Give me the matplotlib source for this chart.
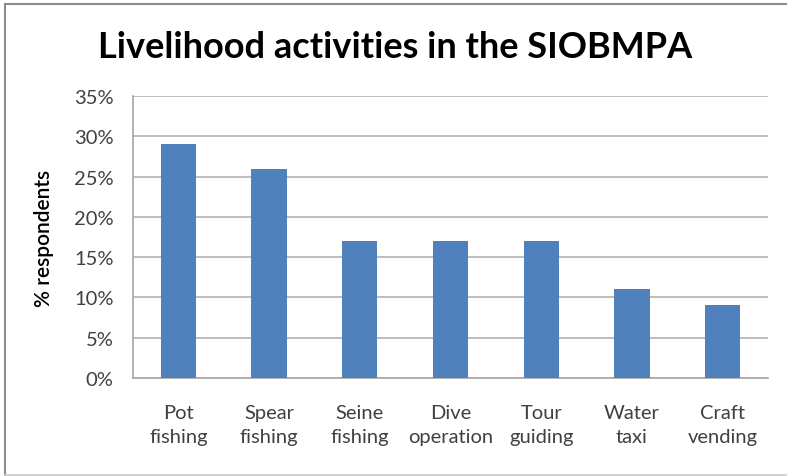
import matplotlib
matplotlib.use("Agg")
import matplotlib.pyplot as plt
from matplotlib.lines import Line2D

categories = ["Pot\nfishing", "Spear\nfishing", "Seine\nfishing", "Dive\noperation",
              "Tour\nguiding", "Water\ntaxi", "Craft\nvending"]
values = [29, 26, 17, 17, 17, 11, 9]
yticks = [0, 5, 10, 15, 20, 25, 30, 35]
ytick_labels = [f"{v}%" for v in yticks]
title = "Livelihood activities in the SIOBMPA"
ylabel = "% respondents"

plt.rcParams['font.family'] = ['Lato', 'DejaVu Sans']

W, H = 788, 477
fig = plt.figure(figsize=(W / 100, H / 100), dpi=100)
ax = fig.add_axes([133 / W, 1 - 379 / H, (768 - 133) / W, (379 - 97) / H])

x = list(range(len(categories)))
ax.bar(x, values, width=0.39, color="#4f81bd", zorder=3)
ax.set_xlim(-0.5, len(categories) - 0.5)
ax.set_ylim(0, 35)
ax.set_yticks(yticks)
ax.set_yticklabels(ytick_labels, fontsize=14.5, color="#404040")
ax.set_xticks(x)
ax.set_xticklabels(categories, fontsize=14.5, color="#404040", linespacing=1.45)
ax.tick_params(axis="both", length=0)
ax.tick_params(axis="y", pad=14)
ax.tick_params(axis="x", pad=19)
ax.grid(axis="y", color="#b3b3b3", linewidth=1.2, zorder=0)
for s in ["top", "right"]:
    ax.spines[s].set_visible(False)
for s in ["left", "bottom"]:
    ax.spines[s].set_color("#a6a6a6")
    ax.spines[s].set_linewidth(1.2)

ax.set_ylabel(ylabel, fontsize=15, color="black", fontweight="semibold", labelpad=14)
fig.text(395 / W, 1 - 47 / H, title, ha="center", va="center",
         fontsize=26, fontweight="bold", color="black")

# outer frame
bc = "#8c8c8c"
fig.add_artist(Line2D([5 / W, 5 / W], [1 - 5 / H, 1 - 476 / H], color=bc, lw=1.5, transform=fig.transFigure))
fig.add_artist(Line2D([5 / W, 786 / W], [1 - 5 / H, 1 - 5 / H], color=bc, lw=1.5, transform=fig.transFigure))
fig.add_artist(Line2D([5 / W, 786 / W], [1 - 476 / H, 1 - 476 / H], color="#c8c8c8", lw=1.2, transform=fig.transFigure))

fig.savefig("out.png", dpi=100)
